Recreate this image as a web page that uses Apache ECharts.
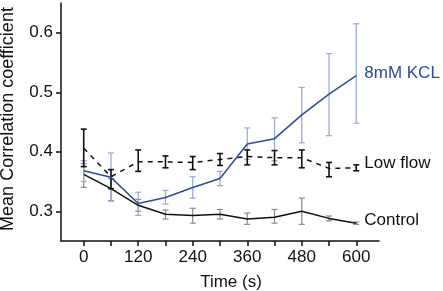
<!DOCTYPE html>
<html>
<head>
<meta charset="utf-8">
<script src="https://cdn.jsdelivr.net/npm/echarts@6/dist/echarts.min.js"></script>
<style>
  html, body { margin: 0; padding: 0; background: #fff; }
  #chart { width: 443px; height: 291px; }
</style>
</head>
<body>
<div id="chart"></div>
<script>
const times = [0, 60, 120, 180, 240, 300, 360, 420, 480, 540, 600]
const xTicks = [0, 60, 120, 180, 240, 300, 360, 420, 480, 540, 600]
const xLabels = [0, 120, 240, 360, 480, 600]
const yTicks = [0.3, 0.4, 0.5, 0.6]

const kclMean = [0.368, 0.357, 0.313, 0.323, 0.340, 0.355, 0.413, 0.422, 0.462, 0.497, 0.528]
const kclLow = [0.350, 0.317, 0.293, 0.312, 0.322, 0.343, 0.387, 0.385, 0.415, 0.427, 0.448]
const kclHigh = [0.385, 0.398, 0.332, 0.335, 0.358, 0.367, 0.440, 0.457, 0.508, 0.565, 0.615]

const lowMean = [0.406, 0.358, 0.383, 0.383, 0.382, 0.387, 0.392, 0.390, 0.390, 0.372, 0.373]
const lowLow = [0.375, 0.338, 0.367, 0.373, 0.370, 0.377, 0.378, 0.378, 0.373, 0.358, 0.368]
const lowHigh = [0.438, 0.370, 0.403, 0.393, 0.392, 0.397, 0.403, 0.402, 0.403, 0.382, 0.378]

const ctrlMean = [0.362, 0.338, 0.310, 0.295, 0.293, 0.295, 0.287, 0.290, 0.300, 0.288, 0.280]
const ctrlLow = [0.340, 0.318, 0.300, 0.287, 0.280, 0.287, 0.278, 0.280, 0.278, 0.284, 0.278]
const ctrlHigh = [0.380, 0.355, 0.320, 0.302, 0.305, 0.303, 0.297, 0.303, 0.322, 0.292, 0.282]

const FONT = 'Liberation Sans, Arial, sans-serif'

function errorBars(lo, hi, color, width, cap) {
  return {
    type: 'custom',
    silent: true,
    z: 2,
    data: times.map((t, i) => [t, lo[i], hi[i]]),
    renderItem: (params, api) => {
      const top = api.coord([api.value(0), api.value(2)])
      const bot = api.coord([api.value(0), api.value(1)])
      const style = { stroke: color, lineWidth: width }
      return {
        type: 'group',
        children: [
          { type: 'line', shape: { x1: top[0], y1: top[1], x2: bot[0], y2: bot[1] }, style },
          { type: 'line', shape: { x1: top[0] - cap, y1: top[1], x2: top[0] + cap, y2: top[1] }, style },
          { type: 'line', shape: { x1: bot[0] - cap, y1: bot[1], x2: bot[0] + cap, y2: bot[1] }, style },
        ],
      }
    },
  }
}

function meanLine(name, values, color, type, labelOffset) {
  return {
    name,
    type: 'line',
    z: 3,
    symbol: 'none',
    data: times.map((t, i) => [t, values[i]]),
    lineStyle: { color, width: 1.5, type },
    endLabel: {
      show: true,
      formatter: name,
      color,
      fontFamily: FONT,
      fontSize: 17,
      distance: 8,
      offset: labelOffset,
    },
  }
}

const chart = echarts.init(document.getElementById('chart'), undefined, { renderer: 'canvas' })
chart.setOption({
  animation: false,
  backgroundColor: '#fff',
  textStyle: { fontFamily: FONT },
  grid: { left: 61, right: 64, top: 3, bottom: 50, outerBoundsMode: 'none' },
  xAxis: {
    type: 'value',
    min: -50,
    max: 650,
    name: 'Time (s)',
    nameLocation: 'middle',
    nameGap: 33,
    nameTextStyle: { color: '#111', fontSize: 17, padding: [0, 0, 0, 22] },
    axisLine: { onZero: false, lineStyle: { color: '#111', width: 1.5 } },
    axisTick: { show: true, length: 5, customValues: xTicks, lineStyle: { color: '#111', width: 1.5 } },
    axisLabel: { customValues: xLabels, color: '#111', fontSize: 17, margin: 8 },
    splitLine: { show: false },
  },
  yAxis: {
    type: 'value',
    min: 0.25,
    max: 0.65,
    name: 'Mean Correlation coefficient',
    nameLocation: 'middle',
    nameGap: 44,
    nameTextStyle: { color: '#111', fontSize: 18, padding: [0, 0, 0, 6] },
    axisLine: { show: true, onZero: false, lineStyle: { color: '#111', width: 1.5 } },
    axisTick: { show: true, length: 5, customValues: yTicks, lineStyle: { color: '#111', width: 1.5 } },
    axisLabel: { customValues: yTicks, color: '#111', fontSize: 17, margin: 8, formatter: (v) => v.toFixed(1) },
    splitLine: { show: false },
  },
  series: [
    errorBars(ctrlLow, ctrlHigh, '#8a8a8a', 1.2, 3),
    errorBars(kclLow, kclHigh, '#97a6d4', 1.2, 3),
    errorBars(lowLow, lowHigh, '#111', 1.6, 3),
    meanLine('Control', ctrlMean, '#111', 'solid', [0, -3]),
    meanLine('Low flow', lowMean, '#111', [5, 5], [0, -5]),
    meanLine('8mM KCL', kclMean, '#2c4b9b', 'solid', [0, -2]),
  ],
})
</script>
</body>
</html>
